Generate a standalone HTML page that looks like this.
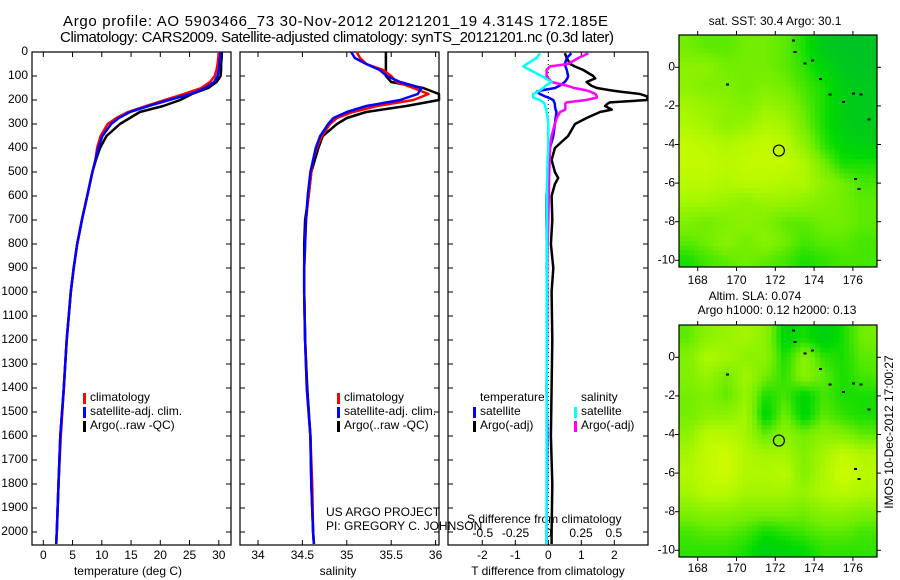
<!DOCTYPE html>
<html><head><meta charset="utf-8"><style>
body{margin:0;background:#fff;}
svg{display:block;font-family:"Liberation Sans",sans-serif;}
</style></head><body>
<svg id="fig" width="900" height="580" viewBox="0 0 900 580"></svg>
<script>
// ---------- DATA ----------
const depths = [0,25,50,75,100,125,150,175,200,225,250,275,300,350,400,450,500,600,700,800,900,1000,1200,1400,1600,1800,2000,2050];
const tempArgo = [30.5,30.5,30.4,30.4,30.3,29.6,28.2,25.4,23.4,20.5,16.5,14.8,13.1,10.8,9.7,9.0,8.4,7.5,6.6,5.8,5.2,4.7,4.0,3.5,2.9,2.6,2.3,2.2];
const tempClim = [30.0,29.9,29.8,29.6,29.3,28.5,27.0,24.0,20.8,17.6,14.5,12.5,11.0,9.8,9.2,8.9,8.4,7.5,6.6,5.8,5.2,4.7,4.0,3.5,3.0,2.6,2.3,2.2];
const tempSat  = [30.3,30.2,30.1,30.0,29.8,29.2,27.7,25.2,21.5,18.0,14.8,12.9,11.6,10.1,9.4,8.9,8.4,7.5,6.6,5.8,5.2,4.7,4.0,3.5,2.9,2.6,2.3,2.2];
const salArgo = [35.44,35.44,35.44,35.44,35.44,35.5,35.86,36.1,36.1,35.67,35.22,35.0,34.89,34.73,34.68,34.64,34.6,34.57,34.53,34.52,34.52,34.52,34.53,34.555,34.59,34.6,34.62,34.63];
const salClim = [35.11,35.15,35.22,35.41,35.5,35.56,35.75,35.92,35.75,35.34,35.07,34.89,34.81,34.72,34.66,34.62,34.6,34.57,34.54,34.53,34.52,34.52,34.53,34.55,34.59,34.61,34.62,34.63];
const salSat  = [35.05,35.09,35.22,35.37,35.45,35.6,35.84,35.8,35.6,35.22,35.0,34.85,34.79,34.7,34.65,34.62,34.59,34.56,34.54,34.53,34.52,34.52,34.53,34.55,34.59,34.6,34.62,34.63];
const diffDepths = [5,25,50,60,75,100,110,125,140,150,160,165,175,185,190,200,210,215,225,240,250,275,300,350,400,450,500,525,550,600,700,800,900,1000,1200,1400,1600,1800,2000,2050];
const dTArgo = [0.5,0.56,0.66,0.8,1.06,1.36,1.42,1.16,1.3,1.47,1.9,2.17,2.78,3.0,3.0,3.0,1.87,1.8,1.72,1.92,1.57,1.16,0.81,0.6,0.2,0.1,0.2,0.3,0.2,0.1,0.12,0.08,0.15,0.1,0.12,0.1,0.08,0.12,0.1,0.1];
const dTSat  = [0.7,0.56,0.5,0.52,0.56,0.6,0.58,0.5,0.35,0.2,-0.2,-0.35,-0.25,-0.1,0.0,0.15,0.18,0.2,0.2,0.22,0.25,0.22,0.2,0.15,0.05,0.02,0.0,0.0,-0.02,-0.05,-0.05,-0.04,-0.05,-0.03,-0.04,-0.05,-0.03,-0.04,-0.05,-0.05];
const dSSat  = [-0.064,-0.09,-0.165,-0.19,-0.14,-0.05,-0.02,0.025,-0.02,-0.04,-0.064,-0.08,-0.115,-0.115,-0.115,-0.064,-0.04,-0.03,-0.025,-0.015,-0.013,-0.005,0,0,0,-0.005,-0.008,-0.008,-0.01,-0.01,-0.01,-0.01,-0.012,-0.012,-0.012,-0.012,-0.013,-0.013,-0.013,-0.013];
const dSArgo = [0.305,0.23,0.15,0.013,-0.013,-0.013,0.0,0.025,0.14,0.2,0.29,0.32,0.36,0.37,0.37,0.29,0.14,0.13,0.13,0.13,0.09,0.064,0.05,0.025,0.013,0.01,0.008,0.006,0.005,0.004,0.0,-0.005,-0.008,-0.01,-0.01,-0.012,-0.012,-0.012,-0.012,-0.012];
const depthTicks = [0,100,200,300,400,500,600,700,800,900,1000,1100,1200,1300,1400,1500,1600,1700,1800,1900,2000];
const tTicks = [0,5,10,15,20,25,30];
const sTicks = [34,34.5,35,35.5,36];
const sTickLabels = ["34","34.5","35","35.5","36"];
const dTTicks = [-2,-1,0,1,2];
const dSTicks = [-0.5,-0.25,0,0.25,0.5];
const dSTickLabels = ["-0.5","-0.25","0","0.25","0.5"];
const lonTicks = [168,170,172,174,176];
const latTicks = [0,-2,-4,-6,-8,-10];
const sstGrid = [
[.5,.45,.45,.5,.5,.45,.3,.1,.05,.05],
[.6,.6,.5,.5,.5,.45,.35,.2,.1,.05],
[.6,.55,.55,.5,.55,.5,.4,.3,.15,.1],
[.7,.65,.6,.55,.65,.6,.45,.3,.15,.1],
[.75,.7,.6,.65,.75,.7,.5,.3,.15,.1],
[.85,.8,.75,.8,.85,.8,.6,.35,.2,.15],
[.85,.85,.8,.85,.85,.85,.75,.5,.3,.3],
[.8,.8,.75,.8,.8,.75,.75,.6,.5,.4],
[.7,.7,.65,.6,.65,.65,.6,.55,.5,.45],
[.55,.5,.55,.6,.55,.45,.45,.5,.5,.45],
[.45,.5,.6,.5,.6,.5,.4,.45,.45,.4],
[.3,.4,.45,.5,.45,.4,.3,.35,.4,.4]];
const slaGrid = [
[.45,.6,.65,.7,.6,.2,.3,.15,.3,.5],
[.55,.75,.7,.6,.6,.3,.6,.35,.3,.45],
[.55,.65,.5,.7,.5,.35,.6,.45,.3,.4],
[.5,.55,.45,.65,.3,.4,.2,.4,.3,.3],
[.5,.6,.6,.7,.2,.5,.2,.45,.35,.3],
[.6,.8,.8,.7,.45,.6,.5,.6,.55,.45],
[.7,.85,.9,.75,.7,.7,.55,.7,.85,.75],
[.75,.85,.9,.75,.75,.8,.55,.75,.9,.8],
[.7,.8,.8,.7,.7,.7,.65,.75,.8,.75],
[.55,.6,.6,.55,.55,.55,.5,.6,.6,.55],
[.4,.45,.45,.4,.3,.35,.4,.45,.45,.4],
[.35,.35,.35,.3,.15,.2,.25,.35,.35,.35]];
const islandLons = [172.9,173.0,173.5,173.9,174.3,174.8,175.5,176.0,176.4,176.8,169.5,176.1,176.3];
const islandLats = [1.4,0.8,0.2,0.35,-0.6,-1.4,-1.8,-1.35,-1.4,-2.7,-0.9,-5.8,-6.3];
const argoLon = 172.185, argoLat = -4.314;

// ---------- HELPERS ----------
const NS="http://www.w3.org/2000/svg";
const svg=document.getElementById('fig');
function mk(tag,attrs,parent){const e=document.createElementNS(NS,tag);for(const k in attrs)e.setAttribute(k,attrs[k]);(parent||svg).appendChild(e);return e;}
function txt(s,x,y,anchor,size,parent){const t=mk('text',{x:x,y:y,'text-anchor':anchor||'start','font-size':size||12,fill:'#000','dominant-baseline':'middle'},parent);t.textContent=s;return t;}
const yD = d => 52 + d*0.24;
const P1={x0:32,x1:231}, P2={x0:240,x1:439}, P3={x0:448,x1:648};
const xT = t => 43.3 + t*5.85;
const xS = s => 258 + (s-34)*88.8;
const xDT = t => 548.3 + t*33;
const xDS = s => 548.3 + s*131;
const clip=(v,a,b)=>Math.max(a,Math.min(b,v));

function frame(P,name){
  const g=mk('g',{});
  
  
  mk('rect',{x:P.x0,y:52,width:P.x1-P.x0,height:493,fill:'none',stroke:'#000','stroke-width':1.2},g);
  depthTicks.forEach(d=>{mk('line',{x1:P.x0,x2:P.x0+5,y1:yD(d),y2:yD(d),stroke:'#000'},g);mk('line',{x1:P.x1-5,x2:P.x1,y1:yD(d),y2:yD(d),stroke:'#000'},g);});
  return g;
}
function line(xs,ds,xf,col,name,P,w){
  const pts=xs.map((v,i)=>clip(xf(v),P.x0,P.x1).toFixed(1)+','+yD(ds[i]).toFixed(1)).join(' ');
  const p=mk('polyline',{points:pts,fill:'none',stroke:col,'stroke-width':w||2.5,'stroke-linejoin':'round'});
  
  
}
function legend(x,y,items,name){
  const g=mk('g',{});
  
  
  items.forEach((it,i)=>{ if(it[0]) mk('rect',{x:x,y:y+i*14-5,width:3,height:11,fill:it[0]},g); txt(it[1],x+7,y+i*14,'start',12,g);});
}

// ---------- TITLES ----------
let t1=txt('Argo profile: AO 5903466_73 30-Nov-2012 20121201_19 4.314S 172.185E',63,22,'start',15);
t1.setAttribute('textLength','545');
let t2=txt('Climatology: CARS2009. Satellite-adjusted climatology: synTS_20121201.nc (0.3d later)',60,38,'start',15);
t2.setAttribute('textLength','554');

// ---------- PANEL 1 ----------
const g1=frame(P1,'temperature-panel');
depthTicks.forEach(d=>txt(String(d),28,yD(d),'end',12,g1));
tTicks.forEach(t=>{mk('line',{x1:xT(t),x2:xT(t),y1:52,y2:57,stroke:'#000'},g1);mk('line',{x1:xT(t),x2:xT(t),y1:540,y2:545,stroke:'#000'},g1);txt(String(t),xT(t),556,'middle',12,g1);});
txt('temperature (deg C)',128,572,'middle',12,g1);
line(tempArgo,depths,xT,'#000','temp-argo-line',P1);
line(tempClim,depths,xT,'#f00','temp-clim-line',P1);
line(tempSat,depths,xT,'#00f','temp-sat-line',P1);
legend(83,398,[['#f00','climatology'],['#00f','satellite-adj. clim.'],['#000','Argo(..raw -QC)']],'temperature-legend');

// ---------- PANEL 2 ----------
const g2=frame(P2,'salinity-panel');
sTicks.forEach((s,i)=>{mk('line',{x1:xS(s),x2:xS(s),y1:52,y2:57,stroke:'#000'},g2);mk('line',{x1:xS(s),x2:xS(s),y1:540,y2:545,stroke:'#000'},g2);txt(sTickLabels[i],xS(s),556,'middle',12,g2);});
txt('salinity',338,572,'middle',12,g2);
line(salArgo,depths,xS,'#000','sal-argo-line',P2);
line(salClim,depths,xS,'#f00','sal-clim-line',P2);
line(salSat,depths,xS,'#00f','sal-sat-line',P2);
legend(337,398,[['#f00','climatology'],['#00f','satellite-adj. clim.'],['#000','Argo(..raw -QC)']],'salinity-legend');
txt('US ARGO PROJECT',326,513,'start',12);
txt('PI: GREGORY C. JOHNSON',326,527,'start',12);

// ---------- PANEL 3 ----------
const g3=frame(P3,'difference-panel');
dTTicks.forEach(t=>{mk('line',{x1:xDT(t),x2:xDT(t),y1:540,y2:545,stroke:'#000'},g3);txt(String(t),xDT(t),556,'middle',12,g3);});
dTTicks.forEach(t=>mk('line',{x1:xDT(t),x2:xDT(t),y1:52,y2:57,stroke:'#000'},g3));
dSTicks.forEach((s,i)=>txt(dSTickLabels[i],xDS(s),534,'middle',12,g3));
mk('line',{x1:xDT(0),x2:xDT(0),y1:52,y2:545,stroke:'#000','stroke-dasharray':'1,3'},g3);
txt('T difference from climatology',548,572,'middle',12,g3);
txt('S difference from climatology',467,520,'start',12,g3);
line(dTArgo,diffDepths,xDT,'#000','dT-argo-line',P3);
line(dTSat,diffDepths,xDT,'#00f','dT-sat-line',P3);
line(dSArgo,diffDepths,xDS,'#f0f','dS-argo-line',P3);
line(dSSat,diffDepths,xDS,'#0ff','dS-sat-line',P3);
legend(473,398,[[null,'temperature'],['#00f','satellite'],['#000','Argo(-adj)']],'dT-legend');
legend(574,398,[[null,'salinity'],['#0ff','satellite'],['#f0f','Argo(-adj)']],'dS-legend');

// ---------- MAPS ----------
const stops=[[0,[0,185,55]],[0.3,[0,218,0]],[0.55,[115,238,0]],[0.8,[175,248,0]],[1,[215,252,0]]];
function col(v){v=clip(v,0,1);for(let i=1;i<stops.length;i++){if(v<=stops[i][0]){const a=stops[i-1],b=stops[i],f=(v-a[0])/(b[0]-a[0]);return 'rgb('+a[1].map((c,k)=>Math.round(c+(b[1][k]-c)*f)).join(',')+')';}}return 'rgb(215,252,0)';}
function samp(G,lon,lat){let fi=clip(lon-167.5,0,9),fj=clip(1-lat,0,11);const i0=Math.floor(fi),j0=Math.floor(fj),i1=Math.min(i0+1,9),j1=Math.min(j0+1,11),a=fi-i0,b=fj-j0;return G[j0][i0]*(1-a)*(1-b)+G[j0][i1]*a*(1-b)+G[j1][i0]*(1-a)*b+G[j1][i1]*a*b;}
function drawMap(G,top,name,labelY){
  const X0=679,X1=877,Y0=top,Y1=top+232;
  const xL=l=>697.7+(l-168)*19.4, yL=l=>(top+32.3)-l*19.3;
  const g=mk('g',{'shape-rendering':'crispEdges'});
  
  
  const step=0.25;
  for(let lon=167.05;lon<177.35;lon+=step){for(let lat=1.75;lat>-10.45;lat-=step){
    const x=xL(lon),y=yL(lat);
    mk('rect',{x:x.toFixed(1),y:y.toFixed(1),width:(step*19.4+0.6).toFixed(1),height:(step*19.3+0.6).toFixed(1),fill:col(samp(G,lon+step/2,lat-step/2)+0.05)},g);
  }}
  mk('rect',{x:877,y:top-5,width:23,height:245,fill:'#fff'},g);
  mk('rect',{x:650,y:top-5,width:29,height:245,fill:'#fff'},g);
  mk('rect',{x:650,y:Y1,width:230,height:8,fill:'#fff'},g);
  mk('rect',{x:650,y:top-8,width:230,height:8,fill:'#fff'},g);
  islandLons.forEach((l,i)=>mk('rect',{x:xL(l)-1,y:yL(islandLats[i])-1,width:3,height:2,fill:'#000'},g));
  const c=mk('circle',{cx:xL(argoLon),cy:yL(argoLat),r:5.5,fill:'none',stroke:'#000','stroke-width':1.2});
  
  
  mk('rect',{x:X0,y:Y0,width:X1-X0,height:Y1-Y0,fill:'none',stroke:'#000','stroke-width':1.2});
  lonTicks.forEach(l=>{mk('line',{x1:xL(l),x2:xL(l),y1:Y0-4,y2:Y0,stroke:'#000'});mk('line',{x1:xL(l),x2:xL(l),y1:Y1,y2:Y1+4,stroke:'#000'});txt(String(l),xL(l),labelY,'middle',12);});
  latTicks.forEach(l=>{mk('line',{x1:X0-4,x2:X0,y1:yL(l),y2:yL(l),stroke:'#000'});mk('line',{x1:X1,x2:X1+4,y1:yL(l),y2:yL(l),stroke:'#000'});txt(String(l),675,yL(l),'end',12);});
}
drawMap(sstGrid,35,'sst-map',281);
drawMap(slaGrid,325,'sla-map',569);
txt('sat. SST: 30.4  Argo: 30.1',775,22,'middle',12);
txt('Altim. SLA: 0.074',755,297,'middle',12);
txt('Argo h1000: 0.12 h2000: 0.13',777,311,'middle',12);
const vt=txt('IMOS 10-Dec-2012 17:00:27',0,0,'middle',12);
vt.setAttribute('transform','translate(890,432) rotate(-90)');


</script>
</body></html>
